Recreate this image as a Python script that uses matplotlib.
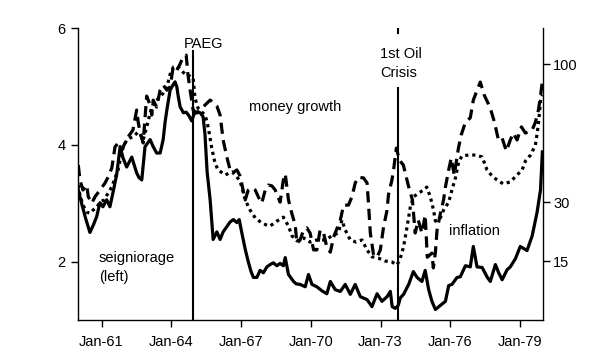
import numpy as np
import matplotlib
matplotlib.use("Agg")
import matplotlib.pyplot as plt
from matplotlib.ticker import NullLocator

plt.rcParams['font.family'] = ['Liberation Sans', 'DejaVu Sans']

# ---------------- data ----------------
seign_t = [1960.00, 1960.16, 1960.33, 1960.50, 1960.65, 1960.79, 1960.93, 1961.06, 1961.22, 1961.36,
           1961.49, 1961.65, 1961.80, 1961.92, 1962.08, 1962.30, 1962.40, 1962.51, 1962.61, 1962.73,
           1962.87, 1963.09, 1963.22, 1963.37, 1963.52, 1963.65, 1963.73, 1963.81, 1963.95, 1964.08,
           1964.16, 1964.24, 1964.29, 1964.38, 1964.52, 1964.64, 1964.74, 1964.88, 1964.98, 1965.11,
           1965.24, 1965.37, 1965.45, 1965.54, 1965.67, 1965.80, 1965.96, 1966.10, 1966.23, 1966.39,
           1966.53, 1966.67, 1966.82, 1966.92, 1967.03, 1967.18, 1967.31, 1967.43, 1967.53, 1967.68,
           1967.82, 1967.96, 1968.11, 1968.25, 1968.39, 1968.54, 1968.68, 1968.82, 1968.90, 1969.04,
           1969.26, 1969.37, 1969.54, 1969.76, 1969.90, 1970.05, 1970.26, 1970.48, 1970.69, 1970.84,
           1971.05, 1971.27, 1971.48, 1971.70, 1971.91, 1972.13, 1972.42, 1972.63, 1972.85, 1973.06,
           1973.28, 1973.42, 1973.50, 1973.63, 1973.76, 1973.85, 1973.99, 1974.21, 1974.41, 1974.57,
           1974.78, 1974.92, 1975.07, 1975.21, 1975.36, 1975.57, 1975.79, 1975.93, 1976.07, 1976.29,
           1976.43, 1976.65, 1976.86, 1976.99, 1977.15, 1977.37, 1977.58, 1977.72, 1977.94, 1978.08,
           1978.23, 1978.44, 1978.58, 1978.80, 1979.01, 1979.30, 1979.52, 1979.73, 1979.88, 1979.96]
seign_v = [3.23, 2.97, 2.72, 2.50, 2.63, 2.77, 3.01, 2.94, 3.06, 2.94,
           3.18, 3.49, 3.97, 3.78, 3.62, 3.79, 3.66, 3.52, 3.44, 3.40,
           3.97, 4.09, 3.97, 3.86, 3.86, 4.09, 4.38, 4.60, 4.94, 5.03,
           5.08, 4.99, 4.85, 4.65, 4.55, 4.56, 4.51, 4.41, 4.53, 4.56,
           4.55, 4.48, 4.17, 3.54, 3.06, 2.38, 2.51, 2.38, 2.51, 2.60,
           2.68, 2.72, 2.67, 2.72, 2.50, 2.21, 2.00, 1.83, 1.73, 1.73,
           1.85, 1.81, 1.91, 1.95, 1.98, 1.93, 1.97, 1.93, 2.07, 1.78,
           1.66, 1.62, 1.61, 1.57, 1.78, 1.61, 1.57, 1.50, 1.45, 1.66,
           1.52, 1.49, 1.61, 1.44, 1.61, 1.40, 1.35, 1.23, 1.45, 1.32,
           1.40, 1.49, 1.23, 1.20, 1.25, 1.38, 1.44, 1.61, 1.83, 1.73,
           1.66, 1.85, 1.52, 1.32, 1.18, 1.25, 1.32, 1.59, 1.61, 1.73,
           1.74, 1.93, 1.91, 2.26, 1.91, 1.90, 1.74, 1.66, 1.95, 1.81,
           1.69, 1.86, 1.91, 2.05, 2.26, 2.19, 2.44, 2.84, 3.23, 3.88]

infl_t = [1960.00, 1960.07, 1960.20, 1960.37, 1960.50, 1960.63, 1960.80, 1960.93, 1961.11, 1961.28,
          1961.44, 1961.58, 1961.71, 1961.80, 1961.92, 1962.08, 1962.23, 1962.35, 1962.57, 1962.66,
          1962.79, 1962.94, 1963.09, 1963.23, 1963.37, 1963.52, 1963.65, 1963.81, 1963.95, 1964.09,
          1964.24, 1964.38, 1964.51, 1964.67, 1964.81, 1964.94, 1965.02, 1965.15, 1965.31, 1965.45,
          1965.54, 1965.63, 1965.74, 1965.88, 1966.01, 1966.14, 1966.32, 1966.49, 1966.62, 1966.79,
          1966.96, 1967.18, 1967.39, 1967.61, 1967.89, 1968.08, 1968.25, 1968.54, 1968.82, 1969.04,
          1969.19, 1969.40, 1969.69, 1969.97, 1970.26, 1970.62, 1970.91, 1971.18, 1971.34, 1971.48,
          1971.70, 1971.95, 1972.20, 1972.42, 1972.63, 1972.91, 1973.20, 1973.49, 1973.71, 1973.85,
          1973.99, 1974.14, 1974.28, 1974.42, 1974.64, 1974.85, 1974.99, 1975.14, 1975.28, 1975.36,
          1975.57, 1975.71, 1975.93, 1976.07, 1976.22, 1976.36, 1976.50, 1976.78, 1977.08, 1977.37,
          1977.58, 1977.80, 1978.01, 1978.28, 1978.58, 1978.87, 1979.09, 1979.23, 1979.45, 1979.66,
          1979.75, 1979.80, 1979.88, 1979.96]
infl_v = [35.6, 32.3, 29.1, 27.0, 26.7, 27.6, 28.5, 30.0, 30.7, 32.9,
          34.9, 38.1, 41.1, 45.0, 50.1, 53.8, 54.8, 55.2, 57.6, 56.7,
          53.8, 60.1, 67.6, 73.4, 75.2, 77.0, 79.6, 83.6, 92.5, 97.8,
          98.6, 96.3, 93.9, 91.1, 91.1, 89.7, 76.4, 70.4, 68.2, 66.5,
          62.7, 57.2, 50.1, 43.8, 41.1, 40.3, 39.2, 39.9, 40.3, 38.8,
          37.0, 30.7, 27.6, 25.4, 24.0, 23.5, 23.2, 24.5, 25.6, 23.2,
          20.7, 19.5, 20.2, 19.2, 19.7, 19.7, 20.7, 21.4, 24.8, 22.2,
          19.7, 19.2, 19.7, 17.4, 15.9, 15.6, 15.0, 14.8, 14.2, 15.6,
          18.1, 23.0, 28.5, 31.7, 32.9, 33.9, 34.9, 31.7, 27.6, 24.5,
          25.4, 27.6, 30.0, 33.9, 38.1, 44.2, 46.7, 47.1, 47.1, 46.3,
          41.1, 38.8, 37.4, 36.0, 36.7, 39.2, 41.1, 44.6, 47.1, 51.5,
          58.1, 63.2, 74.5, 78.3]

money_t = [1960.00, 1960.07, 1960.20, 1960.36, 1960.43, 1960.58, 1960.72, 1960.93, 1961.15, 1961.28,
           1961.44, 1961.58, 1961.72, 1961.87, 1962.01, 1962.14, 1962.35, 1962.51, 1962.57, 1962.66,
           1962.79, 1962.94, 1963.09, 1963.16, 1963.22, 1963.37, 1963.52, 1963.65, 1963.81, 1963.95,
           1964.08, 1964.24, 1964.38, 1964.51, 1964.64, 1964.72, 1964.81, 1964.94, 1965.11, 1965.24,
           1965.45, 1965.67, 1965.80, 1965.96, 1966.10, 1966.23, 1966.39, 1966.53, 1966.66, 1966.82,
           1966.96, 1967.09, 1967.18, 1967.31, 1967.46, 1967.61, 1967.74, 1967.89, 1968.04, 1968.17,
           1968.33, 1968.47, 1968.68, 1968.82, 1968.90, 1969.04, 1969.19, 1969.33, 1969.40, 1969.54,
           1969.69, 1969.83, 1969.97, 1970.12, 1970.26, 1970.40, 1970.55, 1970.69, 1970.84, 1970.98,
           1971.27, 1971.41, 1971.62, 1971.77, 1971.91, 1972.05, 1972.27, 1972.42, 1972.48, 1972.56,
           1972.70, 1972.85, 1972.99, 1973.13, 1973.28, 1973.34, 1973.49, 1973.56, 1973.68, 1973.81,
           1973.98, 1974.19, 1974.37, 1974.49, 1974.62, 1974.78, 1974.92, 1975.01, 1975.21, 1975.27,
           1975.36, 1975.43, 1975.57, 1975.71, 1975.79, 1975.93, 1976.04, 1976.17, 1976.35, 1976.47,
           1976.65, 1976.86, 1976.99, 1977.12, 1977.29, 1977.46, 1977.64, 1977.77, 1977.90, 1978.07,
           1978.23, 1978.41, 1978.58, 1978.71, 1978.87, 1979.06, 1979.23, 1979.52, 1979.66, 1979.79,
           1979.88, 1979.96]
money_v = [43.0, 37.4, 33.9, 35.6, 31.7, 29.7, 31.7, 33.9, 36.3, 38.4,
           41.8, 50.7, 52.4, 49.3, 52.4, 55.2, 58.6, 69.3, 63.2, 57.1,
           52.4, 77.7, 72.2, 66.5, 75.2, 71.0, 81.5, 84.9, 81.5, 83.6,
           97.8, 95.5, 100.2, 105.9, 107.3, 91.8, 81.5, 69.3, 67.7, 69.3,
           72.2, 75.2, 74.0, 71.6, 66.5, 53.8, 46.2, 41.1, 40.1, 41.1,
           38.8, 33.9, 30.7, 33.9, 34.6, 33.9, 31.7, 29.7, 33.9, 35.6,
           35.3, 33.9, 30.0, 37.4, 39.6, 30.7, 26.5, 23.5, 18.9, 19.7,
           22.2, 22.7, 21.4, 17.4, 17.4, 22.2, 21.4, 18.0, 16.9, 20.4,
           24.8, 29.1, 29.1, 31.7, 36.3, 38.4, 38.1, 36.3, 29.7, 21.4,
           16.3, 15.8, 17.4, 23.0, 27.6, 32.3, 37.4, 41.1, 50.1, 45.0,
           43.0, 35.6, 30.7, 21.4, 24.8, 21.4, 26.2, 15.8, 16.7, 13.6,
           16.9, 22.2, 26.5, 30.7, 34.9, 41.1, 45.8, 39.2, 50.1, 56.2,
           62.6, 65.0, 75.2, 80.2, 86.9, 78.3, 72.8, 68.2, 62.6, 53.8,
           54.7, 48.8, 53.8, 57.1, 53.8, 60.2, 57.1, 58.6, 62.6, 69.3,
           77.7, 87.6]

x_tick_years = [1961, 1964, 1967, 1970, 1973, 1976, 1979]
x_tick_labels = ['Jan-61', 'Jan-64', 'Jan-67', 'Jan-70', 'Jan-73', 'Jan-76', 'Jan-79']
left_ticks = [2, 4, 6]
right_ticks = [15, 30, 100]
paeg_t = 1964.92
oil_t = 1973.75

# ---------------- figure ----------------
fig = plt.figure(figsize=(6, 3.6), dpi=100)
ax = fig.add_axes([0.1305, 0.111, 0.775, 0.811])
ax2 = ax.twinx()

def fwd(v):
    return np.log10(np.asarray(v, dtype=float) + 16.0)

def inv(u):
    return 10.0 ** np.asarray(u, dtype=float) - 16.0

ax2.set_yscale('function', functions=(fwd, inv))

ax.plot(seign_t, seign_v, color='black', lw=2.3, zorder=3)
ax2.plot(money_t, money_v, color='black', lw=2.3, linestyle=(0, (3.5, 2.0)))
ax2.plot(infl_t, infl_v, color='black', lw=2.3, linestyle=(0, (1.0, 1.2)))

ax.set_xlim(1960, 1980)
ax.set_ylim(1, 6)
ax2.set_ylim(4.87, 131.8)

ax.set_xticks(x_tick_years)
ax.set_xticklabels(x_tick_labels)
ax.set_yticks(left_ticks)
ax.set_yticklabels([str(t) for t in left_ticks])
ax2.set_yticks(right_ticks)
ax2.set_yticklabels([str(t) for t in right_ticks])
ax2.yaxis.set_minor_locator(NullLocator())

for a in (ax, ax2):
    a.spines['top'].set_visible(False)
    for s in a.spines.values():
        s.set_linewidth(1.0)
        s.set_color('black')
ax.spines['right'].set_visible(False)
ax2.spines['left'].set_visible(False)
ax2.spines['bottom'].set_visible(False)

ax.tick_params(axis='both', direction='out', length=5, width=1, labelsize=10.5,
               colors='black', pad=4)
ax.tick_params(axis='x', pad=6)
ax2.tick_params(axis='y', direction='out', length=5, width=1, labelsize=10.5,
                colors='black', pad=2)

# event lines
ax.axvline(paeg_t, ymin=0, ymax=0.921, color='black', lw=1.5, zorder=4)
ax.axvline(oil_t, ymin=0, ymax=0.795, color='black', lw=1.5, zorder=4)
ax.axvline(oil_t, ymin=0.983, ymax=1.0, color='black', lw=1.5, zorder=4)

fs = 10.5
ax.text(0.226, 0.932, 'PAEG', transform=ax.transAxes, fontsize=fs, ha='left', va='baseline')
ax.text(0.694, 0.897, '1st Oil', transform=ax.transAxes, fontsize=fs, ha='center', va='baseline')
ax.text(0.690, 0.832, 'Crisis', transform=ax.transAxes, fontsize=fs, ha='center', va='baseline')
ax.text(0.467, 0.716, 'money growth', transform=ax.transAxes, fontsize=fs, ha='center', va='baseline')
ax.text(0.798, 0.291, 'inflation', transform=ax.transAxes, fontsize=fs, ha='left', va='baseline')
ax.text(0.043, 0.199, 'seigniorage', transform=ax.transAxes, fontsize=fs, ha='left', va='baseline')
ax.text(0.0445, 0.134, '(left)', transform=ax.transAxes, fontsize=fs, ha='left', va='baseline')

fig.savefig('out.png', dpi=100, facecolor='white')
